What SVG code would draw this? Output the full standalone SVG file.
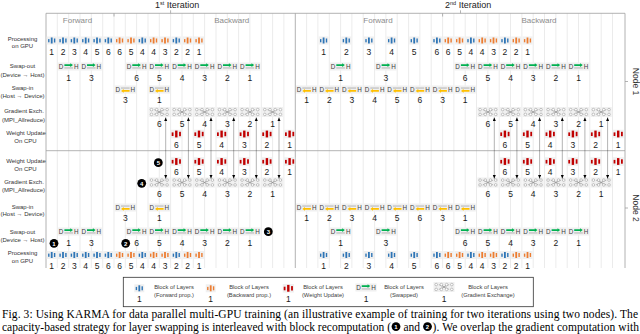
<svg xmlns="http://www.w3.org/2000/svg" width="640" height="334" viewBox="0 0 640 334">
<defs>
<style>
text{font-family:"Liberation Sans",Arial,sans-serif}
.bg{fill:#f0f0f0}
.n{font-size:8.5px;fill:#1a1a1a;text-anchor:middle}
.dh{font-size:6.3px;fill:#404040;text-anchor:middle}
.lb{font-size:6px;fill:#333;text-anchor:middle}
.fb{font-size:8px;fill:#8c8c8c;text-anchor:middle}
.it{font-size:9px;fill:#222}
.nd{font-size:8.5px;fill:#333;text-anchor:middle}
.lg{font-size:5.8px;fill:#404040;text-anchor:middle}
.cap{font-family:"Liberation Serif","Times New Roman",serif;font-size:11.5px;fill:#000}
.ct{font-size:6px;font-weight:bold;fill:#fff;text-anchor:middle}
.grid{stroke:#dedede;stroke-width:0.6;fill:none}
.frame{stroke:#a0a0a0;stroke-width:0.8;fill:none}
.ar{stroke:#000;stroke-width:0.6;stroke-dasharray:1 1;fill:none;marker-start:url(#ah);marker-end:url(#ah)}
</style>
<marker id="ah" viewBox="0 0 6 6" refX="6" refY="3" markerWidth="3.6" markerHeight="3.6" markerUnits="userSpaceOnUse" orient="auto-start-reverse"><path d="M0 0.4L6 3L0 5.6z" fill="#000"/></marker>
<g id="bars"><rect x="-3.6" y="-1.4" width="1.4" height="3.2"/><rect x="-0.9" y="-3" width="1.8" height="6"/><rect x="2.2" y="-2" width="1.4" height="4"/></g>
<g id="fw"><rect class="bg" x="-5" y="-4" width="10" height="8"/><use href="#bars" fill="#2e75b6"/></g>
<g id="bw"><rect class="bg" x="-5" y="-4" width="10" height="8"/><use href="#bars" fill="#ed7d31"/></g>
<g id="wu"><rect class="bg" x="-5.6" y="-4.3" width="11.2" height="8.6"/><g fill="#c00000"><rect x="-4.6" y="-1.6" width="1.8" height="3.6"/><rect x="-1.2" y="-3.4" width="2.4" height="6.8"/><rect x="2.8" y="-2.2" width="1.8" height="4.4"/></g></g>
<g id="so"><rect class="bg" x="-10.6" y="-4" width="21.2" height="8"/><path d="M-4.3 -2.2H1.6V-3.2L4.3 -1.4L1.6 0.4V-0.6H-4.3Z" fill="#00b050"/><rect x="-4.3" y="0.7" width="8.6" height="1.5" fill="#c8c8c8"/></g>
<g id="si"><rect class="bg" x="-10.6" y="-4" width="21.2" height="8"/><rect x="-4.3" y="-2.2" width="8.6" height="1.5" fill="#c8c8c8"/><path d="M4.3 0.6H-1.6V-0.4L-4.3 1.4L-1.6 3.2V2.2H4.3Z" fill="#ffc000"/></g>
<g id="gx"><rect class="bg" x="-10.5" y="-5" width="21" height="10"/><g stroke="#8c8c8c" stroke-width="0.5" fill="#fff"><path d="M-5.2 -2.4L5.2 2.4M5.2 -2.4L-5.2 2.4M-2.6 -2.4L2.6 2.4M2.6 -2.4L-2.6 2.4" fill="none"/><circle cx="-7.8" cy="-2.4" r="1.3"/><circle cx="-2.6" cy="-2.4" r="1.3"/><circle cx="2.6" cy="-2.4" r="1.3"/><circle cx="7.8" cy="-2.4" r="1.3"/><circle cx="-7.8" cy="2.4" r="1.3"/><circle cx="-2.6" cy="2.4" r="1.3"/><circle cx="2.6" cy="2.4" r="1.3"/><circle cx="7.8" cy="2.4" r="1.3"/></g></g>
</defs>
<rect width="640" height="334" fill="#fff"/>

<g id="frame">
<path class="grid" d="M57.3 13.3V268M68.7 13.3V268M80 13.3V268M91.3 13.3V268M102.7 13.3V268M114 13.3V268M125.3 13.3V268M136.6 13.3V268M148 13.3V268M159.3 13.3V268M170.6 13.3V268M182 13.3V268M193.3 13.3V268M204.6 13.3V268M216 13.3V268M227.3 13.3V268M238.6 13.3V268M249.9 13.3V268M261.3 13.3V268M272.6 13.3V268M283.9 13.3V268M306.6 13.3V268M317.9 13.3V268M329.3 13.3V268M340.6 13.3V268M351.9 13.3V268M363.2 13.3V268M374.6 13.3V268M385.9 13.3V268M397.2 13.3V268M408.6 13.3V268M419.9 13.3V268M431.2 13.3V268M442.6 13.3V268M453.9 13.3V268M465.2 13.3V268M476.5 13.3V268M487.9 13.3V268M499.2 13.3V268M510.5 13.3V268M521.9 13.3V268M533.2 13.3V268M544.5 13.3V268M555.9 13.3V268M567.2 13.3V268M578.5 13.3V268M589.8 13.3V268M601.2 13.3V268M612.5 13.3V268"/>
<path class="frame" d="M46 13.3V268M295.3 13.3V268M46 13.3H625V268M170.6 10.3V13.3M460.5 10.3V13.3M114 13.3V16.5M442.6 13.3V16.5M625 81.5H628M625 208H628M46 150.7H625"/>
<text class="it" x="155" y="8">1<tspan font-size="5.5" dy="-3">st</tspan><tspan dy="3"> Iteration</tspan></text>
<text class="it" x="445" y="8">2<tspan font-size="5.5" dy="-3">nd</tspan><tspan dy="3"> Iteration</tspan></text>
<text class="fb" x="77.5" y="23">Forward</text>
<text class="fb" x="231.7" y="23">Backward</text>
<text class="fb" x="378" y="23">Forward</text>
<text class="fb" x="539" y="23">Backward</text>
<text class="nd" transform="translate(632.5 81.5) rotate(90)">Node 1</text>
<text class="nd" transform="translate(632.5 208) rotate(90)">Node 2</text>
</g>

<g id="row-labels">
<text class="lb" x="22.5" y="40.5">Processing</text><text class="lb" x="22.5" y="47.5">on GPU</text>
<text class="lb" x="22.5" y="67.5">Swap-out</text><text class="lb" x="22.5" y="76.5">(Device → Host)</text>
<text class="lb" x="22.5" y="89.5">Swap-in</text><text class="lb" x="22.5" y="97.5">(Host → Device)</text>
<text class="lb" x="24" y="112.5">Gradient Exch.</text><text class="lb" x="23.5" y="122">(MPI_Allreduce)</text>
<text class="lb" x="26" y="135">Weight Update</text><text class="lb" x="25.5" y="143">On CPU</text>
<text class="lb" x="26" y="162.5">Weight Update</text><text class="lb" x="25.5" y="171">On CPU</text>
<text class="lb" x="24" y="183.5">Gradient Exch.</text><text class="lb" x="23.5" y="192">(MPI_Allreduce)</text>
<text class="lb" x="22.5" y="208.5">Swap-in</text><text class="lb" x="22.5" y="216">(Host → Device)</text>
<text class="lb" x="22.5" y="233.5">Swap-out</text><text class="lb" x="22.5" y="242">(Device → Host)</text>
<text class="lb" x="22.5" y="255">Processing</text><text class="lb" x="22.5" y="263">on GPU</text>
</g>

<g id="node1">
<g id="n1-p01" transform="translate(51.7 40.5)"><use href="#fw"/><text class="n" y="14.5">1</text></g>
<g id="n1-p02" transform="translate(63 40.5)"><use href="#fw"/><text class="n" y="14.5">2</text></g>
<g id="n1-p03" transform="translate(74.3 40.5)"><use href="#fw"/><text class="n" y="14.5">3</text></g>
<g id="n1-p04" transform="translate(85.7 40.5)"><use href="#fw"/><text class="n" y="14.5">4</text></g>
<g id="n1-p05" transform="translate(97 40.5)"><use href="#fw"/><text class="n" y="14.5">5</text></g>
<g id="n1-p06" transform="translate(108.3 40.5)"><use href="#fw"/><text class="n" y="14.5">6</text></g>
<g id="n1-p07" transform="translate(119.6 40.5)"><use href="#bw"/><text class="n" y="14.5">6</text></g>
<g id="n1-p08" transform="translate(131 40.5)"><use href="#bw"/><text class="n" y="14.5">5</text></g>
<g id="n1-p09" transform="translate(142.3 40.5)"><use href="#fw"/><text class="n" y="14.5">4</text></g>
<g id="n1-p10" transform="translate(153.6 40.5)"><use href="#bw"/><text class="n" y="14.5">4</text></g>
<g id="n1-p11" transform="translate(165 40.5)"><use href="#bw"/><text class="n" y="14.5">3</text></g>
<g id="n1-p12" transform="translate(176.3 40.5)"><use href="#fw"/><text class="n" y="14.5">2</text></g>
<g id="n1-p13" transform="translate(187.6 40.5)"><use href="#bw"/><text class="n" y="14.5">2</text></g>
<g id="n1-p14" transform="translate(199 40.5)"><use href="#bw"/><text class="n" y="14.5">1</text></g>
<g id="n1-p15" transform="translate(323.6 40.5)"><use href="#fw"/><text class="n" y="14.5">1</text></g>
<g id="n1-p16" transform="translate(346.3 40.5)"><use href="#fw"/><text class="n" y="14.5">2</text></g>
<g id="n1-p17" transform="translate(368.9 40.5)"><use href="#fw"/><text class="n" y="14.5">3</text></g>
<g id="n1-p18" transform="translate(391.6 40.5)"><use href="#fw"/><text class="n" y="14.5">4</text></g>
<g id="n1-p19" transform="translate(414.2 40.5)"><use href="#fw"/><text class="n" y="14.5">5</text></g>
<g id="n1-p20" transform="translate(436.9 40.5)"><use href="#fw"/><text class="n" y="14.5">6</text></g>
<g id="n1-p21" transform="translate(448.2 40.5)"><use href="#bw"/><text class="n" y="14.5">6</text></g>
<g id="n1-p22" transform="translate(459.6 40.5)"><use href="#bw"/><text class="n" y="14.5">5</text></g>
<g id="n1-p23" transform="translate(470.9 40.5)"><use href="#fw"/><text class="n" y="14.5">4</text></g>
<g id="n1-p24" transform="translate(482.2 40.5)"><use href="#bw"/><text class="n" y="14.5">4</text></g>
<g id="n1-p25" transform="translate(493.5 40.5)"><use href="#bw"/><text class="n" y="14.5">3</text></g>
<g id="n1-p26" transform="translate(504.9 40.5)"><use href="#fw"/><text class="n" y="14.5">2</text></g>
<g id="n1-p27" transform="translate(516.2 40.5)"><use href="#bw"/><text class="n" y="14.5">2</text></g>
<g id="n1-p28" transform="translate(527.5 40.5)"><use href="#bw"/><text class="n" y="14.5">1</text></g>

<g id="n1-so01" transform="translate(68.7 66.5)"><use href="#so"/><text class="dh" x="-7.6 7.6" y="2.3">DH</text><text class="n" y="14.7">1</text></g>
<g id="n1-so02" transform="translate(91.3 66.5)"><use href="#so"/><text class="dh" x="-7.6 7.6" y="2.3">DH</text><text class="n" y="14.7">3</text></g>
<g id="n1-so03" transform="translate(136.6 66.5)"><use href="#so"/><text class="dh" x="-7.6 7.6" y="2.3">DH</text><text class="n" y="14.7">6</text></g>
<g id="n1-so04" transform="translate(159.3 66.5)"><use href="#so"/><text class="dh" x="-7.6 7.6" y="2.3">DH</text><text class="n" y="14.7">5</text></g>
<g id="n1-so05" transform="translate(182 66.5)"><use href="#so"/><text class="dh" x="-7.6 7.6" y="2.3">DH</text><text class="n" y="14.7">4</text></g>
<g id="n1-so06" transform="translate(204.6 66.5)"><use href="#so"/><text class="dh" x="-7.6 7.6" y="2.3">DH</text><text class="n" y="14.7">3</text></g>
<g id="n1-so07" transform="translate(227.3 66.5)"><use href="#so"/><text class="dh" x="-7.6 7.6" y="2.3">DH</text><text class="n" y="14.7">2</text></g>
<g id="n1-so08" transform="translate(249.9 66.5)"><use href="#so"/><text class="dh" x="-7.6 7.6" y="2.3">DH</text><text class="n" y="14.7">1</text></g>
<g id="n1-so09" transform="translate(340.6 66.5)"><use href="#so"/><text class="dh" x="-7.6 7.6" y="2.3">DH</text><text class="n" y="14.7">1</text></g>
<g id="n1-so10" transform="translate(385.9 66.5)"><use href="#so"/><text class="dh" x="-7.6 7.6" y="2.3">DH</text><text class="n" y="14.7">3</text></g>
<g id="n1-so11" transform="translate(465.2 66.5)"><use href="#so"/><text class="dh" x="-7.6 7.6" y="2.3">DH</text><text class="n" y="14.7">6</text></g>
<g id="n1-so12" transform="translate(487.9 66.5)"><use href="#so"/><text class="dh" x="-7.6 7.6" y="2.3">DH</text><text class="n" y="14.7">5</text></g>
<g id="n1-so13" transform="translate(510.5 66.5)"><use href="#so"/><text class="dh" x="-7.6 7.6" y="2.3">DH</text><text class="n" y="14.7">4</text></g>
<g id="n1-so14" transform="translate(533.2 66.5)"><use href="#so"/><text class="dh" x="-7.6 7.6" y="2.3">DH</text><text class="n" y="14.7">3</text></g>
<g id="n1-so15" transform="translate(555.9 66.5)"><use href="#so"/><text class="dh" x="-7.6 7.6" y="2.3">DH</text><text class="n" y="14.7">2</text></g>
<g id="n1-so16" transform="translate(578.5 66.5)"><use href="#so"/><text class="dh" x="-7.6 7.6" y="2.3">DH</text><text class="n" y="14.7">1</text></g>

<g id="n1-si01" transform="translate(125.3 89.5)"><use href="#si"/><text class="dh" x="-7.6 7.6" y="2.3">DH</text><text class="n" y="13.3">3</text></g>
<g id="n1-si02" transform="translate(159.3 89.5)"><use href="#si"/><text class="dh" x="-7.6 7.6" y="2.3">DH</text><text class="n" y="13.3">1</text></g>
<g id="n1-si03" transform="translate(306.6 89.5)"><use href="#si"/><text class="dh" x="-7.6 7.6" y="2.3">DH</text><text class="n" y="13.3">1</text></g>
<g id="n1-si04" transform="translate(329.3 89.5)"><use href="#si"/><text class="dh" x="-7.6 7.6" y="2.3">DH</text><text class="n" y="13.3">2</text></g>
<g id="n1-si05" transform="translate(351.9 89.5)"><use href="#si"/><text class="dh" x="-7.6 7.6" y="2.3">DH</text><text class="n" y="13.3">3</text></g>
<g id="n1-si06" transform="translate(374.6 89.5)"><use href="#si"/><text class="dh" x="-7.6 7.6" y="2.3">DH</text><text class="n" y="13.3">4</text></g>
<g id="n1-si07" transform="translate(397.2 89.5)"><use href="#si"/><text class="dh" x="-7.6 7.6" y="2.3">DH</text><text class="n" y="13.3">5</text></g>
<g id="n1-si08" transform="translate(419.9 89.5)"><use href="#si"/><text class="dh" x="-7.6 7.6" y="2.3">DH</text><text class="n" y="13.3">6</text></g>
<g id="n1-si09" transform="translate(442.6 89.5)"><use href="#si"/><text class="dh" x="-7.6 7.6" y="2.3">DH</text><text class="n" y="13.3">3</text></g>
<g id="n1-si10" transform="translate(465.2 89.5)"><use href="#si"/><text class="dh" x="-7.6 7.6" y="2.3">DH</text><text class="n" y="13.3">1</text></g>

<g id="n1-g01" transform="translate(159.3 112)"><use href="#gx"/><text class="n" y="14.8">6</text></g>
<g id="n1-g02" transform="translate(182 112)"><use href="#gx"/><text class="n" y="14.8">5</text></g>
<g id="n1-g03" transform="translate(204.6 112)"><use href="#gx"/><text class="n" y="14.8">4</text></g>
<g id="n1-g04" transform="translate(227.3 112)"><use href="#gx"/><text class="n" y="14.8">3</text></g>
<g id="n1-g05" transform="translate(249.9 112)"><use href="#gx"/><text class="n" y="14.8">2</text></g>
<g id="n1-g06" transform="translate(272.6 112)"><use href="#gx"/><text class="n" y="14.8">1</text></g>
<g id="n1-g07" transform="translate(487.9 112)"><use href="#gx"/><text class="n" y="14.8">6</text></g>
<g id="n1-g08" transform="translate(510.5 112)"><use href="#gx"/><text class="n" y="14.8">5</text></g>
<g id="n1-g09" transform="translate(533.2 112)"><use href="#gx"/><text class="n" y="14.8">4</text></g>
<g id="n1-g10" transform="translate(555.9 112)"><use href="#gx"/><text class="n" y="14.8">3</text></g>
<g id="n1-g11" transform="translate(578.5 112)"><use href="#gx"/><text class="n" y="14.8">2</text></g>
<g id="n1-g12" transform="translate(601.2 112)"><use href="#gx"/><text class="n" y="14.8">1</text></g>

<g id="n1-w01" transform="translate(176.3 134)"><use href="#wu"/><text class="n" y="14.2">6</text></g>
<g id="n1-w02" transform="translate(199 134)"><use href="#wu"/><text class="n" y="14.2">5</text></g>
<g id="n1-w03" transform="translate(221.6 134)"><use href="#wu"/><text class="n" y="14.2">4</text></g>
<g id="n1-w04" transform="translate(244.3 134)"><use href="#wu"/><text class="n" y="14.2">3</text></g>
<g id="n1-w05" transform="translate(266.9 134)"><use href="#wu"/><text class="n" y="14.2">2</text></g>
<g id="n1-w06" transform="translate(289.6 134)"><use href="#wu"/><text class="n" y="14.2">1</text></g>
<g id="n1-w07" transform="translate(504.9 134)"><use href="#wu"/><text class="n" y="14.2">6</text></g>
<g id="n1-w08" transform="translate(527.5 134)"><use href="#wu"/><text class="n" y="14.2">5</text></g>
<g id="n1-w09" transform="translate(550.2 134)"><use href="#wu"/><text class="n" y="14.2">4</text></g>
<g id="n1-w10" transform="translate(572.9 134)"><use href="#wu"/><text class="n" y="14.2">3</text></g>
<g id="n1-w11" transform="translate(595.5 134)"><use href="#wu"/><text class="n" y="14.2">2</text></g>
<g id="n1-w12" transform="translate(618.2 134)"><use href="#wu"/><text class="n" y="14.2">1</text></g>
</g>

<g id="node2">
<g id="n2-w01" transform="translate(176.3 161.5)"><use href="#wu"/><text class="n" y="13.5">6</text></g>
<g id="n2-w02" transform="translate(199 161.5)"><use href="#wu"/><text class="n" y="13.5">5</text></g>
<g id="n2-w03" transform="translate(221.6 161.5)"><use href="#wu"/><text class="n" y="13.5">4</text></g>
<g id="n2-w04" transform="translate(244.3 161.5)"><use href="#wu"/><text class="n" y="13.5">3</text></g>
<g id="n2-w05" transform="translate(266.9 161.5)"><use href="#wu"/><text class="n" y="13.5">2</text></g>
<g id="n2-w06" transform="translate(289.6 161.5)"><use href="#wu"/><text class="n" y="13.5">1</text></g>
<g id="n2-w07" transform="translate(504.9 161.5)"><use href="#wu"/><text class="n" y="13.5">6</text></g>
<g id="n2-w08" transform="translate(527.5 161.5)"><use href="#wu"/><text class="n" y="13.5">5</text></g>
<g id="n2-w09" transform="translate(550.2 161.5)"><use href="#wu"/><text class="n" y="13.5">4</text></g>
<g id="n2-w10" transform="translate(572.9 161.5)"><use href="#wu"/><text class="n" y="13.5">3</text></g>
<g id="n2-w11" transform="translate(595.5 161.5)"><use href="#wu"/><text class="n" y="13.5">2</text></g>
<g id="n2-w12" transform="translate(618.2 161.5)"><use href="#wu"/><text class="n" y="13.5">1</text></g>

<g id="n2-g01" transform="translate(159.3 182.5)"><use href="#gx"/><text class="n" y="14.5">6</text></g>
<g id="n2-g02" transform="translate(182 182.5)"><use href="#gx"/><text class="n" y="14.5">5</text></g>
<g id="n2-g03" transform="translate(204.6 182.5)"><use href="#gx"/><text class="n" y="14.5">4</text></g>
<g id="n2-g04" transform="translate(227.3 182.5)"><use href="#gx"/><text class="n" y="14.5">3</text></g>
<g id="n2-g05" transform="translate(249.9 182.5)"><use href="#gx"/><text class="n" y="14.5">2</text></g>
<g id="n2-g06" transform="translate(272.6 182.5)"><use href="#gx"/><text class="n" y="14.5">1</text></g>
<g id="n2-g07" transform="translate(487.9 182.5)"><use href="#gx"/><text class="n" y="14.5">6</text></g>
<g id="n2-g08" transform="translate(510.5 182.5)"><use href="#gx"/><text class="n" y="14.5">5</text></g>
<g id="n2-g09" transform="translate(533.2 182.5)"><use href="#gx"/><text class="n" y="14.5">4</text></g>
<g id="n2-g10" transform="translate(555.9 182.5)"><use href="#gx"/><text class="n" y="14.5">3</text></g>
<g id="n2-g11" transform="translate(578.5 182.5)"><use href="#gx"/><text class="n" y="14.5">2</text></g>
<g id="n2-g12" transform="translate(601.2 182.5)"><use href="#gx"/><text class="n" y="14.5">1</text></g>

<g id="n2-si01" transform="translate(125.3 207.5)"><use href="#si"/><text class="dh" x="-7.6 7.6" y="2.3">DH</text><text class="n" y="13.3">3</text></g>
<g id="n2-si02" transform="translate(159.3 207.5)"><use href="#si"/><text class="dh" x="-7.6 7.6" y="2.3">DH</text><text class="n" y="13.3">1</text></g>
<g id="n2-si03" transform="translate(306.6 207.5)"><use href="#si"/><text class="dh" x="-7.6 7.6" y="2.3">DH</text><text class="n" y="13.3">1</text></g>
<g id="n2-si04" transform="translate(329.3 207.5)"><use href="#si"/><text class="dh" x="-7.6 7.6" y="2.3">DH</text><text class="n" y="13.3">2</text></g>
<g id="n2-si05" transform="translate(351.9 207.5)"><use href="#si"/><text class="dh" x="-7.6 7.6" y="2.3">DH</text><text class="n" y="13.3">3</text></g>
<g id="n2-si06" transform="translate(374.6 207.5)"><use href="#si"/><text class="dh" x="-7.6 7.6" y="2.3">DH</text><text class="n" y="13.3">4</text></g>
<g id="n2-si07" transform="translate(397.2 207.5)"><use href="#si"/><text class="dh" x="-7.6 7.6" y="2.3">DH</text><text class="n" y="13.3">5</text></g>
<g id="n2-si08" transform="translate(419.9 207.5)"><use href="#si"/><text class="dh" x="-7.6 7.6" y="2.3">DH</text><text class="n" y="13.3">6</text></g>
<g id="n2-si09" transform="translate(442.6 207.5)"><use href="#si"/><text class="dh" x="-7.6 7.6" y="2.3">DH</text><text class="n" y="13.3">3</text></g>
<g id="n2-si10" transform="translate(465.2 207.5)"><use href="#si"/><text class="dh" x="-7.6 7.6" y="2.3">DH</text><text class="n" y="13.3">1</text></g>

<g id="n2-so01" transform="translate(68.7 231.5)"><use href="#so"/><text class="dh" x="-7.6 7.6" y="2.3">DH</text><text class="n" y="14">1</text></g>
<g id="n2-so02" transform="translate(91.3 231.5)"><use href="#so"/><text class="dh" x="-7.6 7.6" y="2.3">DH</text><text class="n" y="14">3</text></g>
<g id="n2-so03" transform="translate(136.6 231.5)"><use href="#so"/><text class="dh" x="-7.6 7.6" y="2.3">DH</text><text class="n" y="14">6</text></g>
<g id="n2-so04" transform="translate(159.3 231.5)"><use href="#so"/><text class="dh" x="-7.6 7.6" y="2.3">DH</text><text class="n" y="14">5</text></g>
<g id="n2-so05" transform="translate(182 231.5)"><use href="#so"/><text class="dh" x="-7.6 7.6" y="2.3">DH</text><text class="n" y="14">4</text></g>
<g id="n2-so06" transform="translate(204.6 231.5)"><use href="#so"/><text class="dh" x="-7.6 7.6" y="2.3">DH</text><text class="n" y="14">3</text></g>
<g id="n2-so07" transform="translate(227.3 231.5)"><use href="#so"/><text class="dh" x="-7.6 7.6" y="2.3">DH</text><text class="n" y="14">2</text></g>
<g id="n2-so08" transform="translate(249.9 231.5)"><use href="#so"/><text class="dh" x="-7.6 7.6" y="2.3">DH</text><text class="n" y="14">1</text></g>
<g id="n2-so09" transform="translate(340.6 231.5)"><use href="#so"/><text class="dh" x="-7.6 7.6" y="2.3">DH</text><text class="n" y="14">1</text></g>
<g id="n2-so10" transform="translate(385.9 231.5)"><use href="#so"/><text class="dh" x="-7.6 7.6" y="2.3">DH</text><text class="n" y="14">3</text></g>
<g id="n2-so11" transform="translate(465.2 231.5)"><use href="#so"/><text class="dh" x="-7.6 7.6" y="2.3">DH</text><text class="n" y="14">6</text></g>
<g id="n2-so12" transform="translate(487.9 231.5)"><use href="#so"/><text class="dh" x="-7.6 7.6" y="2.3">DH</text><text class="n" y="14">5</text></g>
<g id="n2-so13" transform="translate(510.5 231.5)"><use href="#so"/><text class="dh" x="-7.6 7.6" y="2.3">DH</text><text class="n" y="14">4</text></g>
<g id="n2-so14" transform="translate(533.2 231.5)"><use href="#so"/><text class="dh" x="-7.6 7.6" y="2.3">DH</text><text class="n" y="14">3</text></g>
<g id="n2-so15" transform="translate(555.9 231.5)"><use href="#so"/><text class="dh" x="-7.6 7.6" y="2.3">DH</text><text class="n" y="14">2</text></g>
<g id="n2-so16" transform="translate(578.5 231.5)"><use href="#so"/><text class="dh" x="-7.6 7.6" y="2.3">DH</text><text class="n" y="14">1</text></g>

<g id="n2-p01" transform="translate(51.7 255)"><use href="#fw"/><text class="n" y="14">1</text></g>
<g id="n2-p02" transform="translate(63 255)"><use href="#fw"/><text class="n" y="14">2</text></g>
<g id="n2-p03" transform="translate(74.3 255)"><use href="#fw"/><text class="n" y="14">3</text></g>
<g id="n2-p04" transform="translate(85.7 255)"><use href="#fw"/><text class="n" y="14">4</text></g>
<g id="n2-p05" transform="translate(97 255)"><use href="#fw"/><text class="n" y="14">5</text></g>
<g id="n2-p06" transform="translate(108.3 255)"><use href="#fw"/><text class="n" y="14">6</text></g>
<g id="n2-p07" transform="translate(119.6 255)"><use href="#bw"/><text class="n" y="14">6</text></g>
<g id="n2-p08" transform="translate(131 255)"><use href="#bw"/><text class="n" y="14">5</text></g>
<g id="n2-p09" transform="translate(142.3 255)"><use href="#fw"/><text class="n" y="14">4</text></g>
<g id="n2-p10" transform="translate(153.6 255)"><use href="#bw"/><text class="n" y="14">4</text></g>
<g id="n2-p11" transform="translate(165 255)"><use href="#bw"/><text class="n" y="14">3</text></g>
<g id="n2-p12" transform="translate(176.3 255)"><use href="#fw"/><text class="n" y="14">2</text></g>
<g id="n2-p13" transform="translate(187.6 255)"><use href="#bw"/><text class="n" y="14">2</text></g>
<g id="n2-p14" transform="translate(199 255)"><use href="#bw"/><text class="n" y="14">1</text></g>
<g id="n2-p15" transform="translate(323.6 255)"><use href="#fw"/><text class="n" y="14">1</text></g>
<g id="n2-p16" transform="translate(346.3 255)"><use href="#fw"/><text class="n" y="14">2</text></g>
<g id="n2-p17" transform="translate(368.9 255)"><use href="#fw"/><text class="n" y="14">3</text></g>
<g id="n2-p18" transform="translate(391.6 255)"><use href="#fw"/><text class="n" y="14">4</text></g>
<g id="n2-p19" transform="translate(414.2 255)"><use href="#fw"/><text class="n" y="14">5</text></g>
<g id="n2-p20" transform="translate(436.9 255)"><use href="#fw"/><text class="n" y="14">6</text></g>
<g id="n2-p21" transform="translate(448.2 255)"><use href="#bw"/><text class="n" y="14">6</text></g>
<g id="n2-p22" transform="translate(459.6 255)"><use href="#bw"/><text class="n" y="14">5</text></g>
<g id="n2-p23" transform="translate(470.9 255)"><use href="#fw"/><text class="n" y="14">4</text></g>
<g id="n2-p24" transform="translate(482.2 255)"><use href="#bw"/><text class="n" y="14">4</text></g>
<g id="n2-p25" transform="translate(493.5 255)"><use href="#bw"/><text class="n" y="14">3</text></g>
<g id="n2-p26" transform="translate(504.9 255)"><use href="#fw"/><text class="n" y="14">2</text></g>
<g id="n2-p27" transform="translate(516.2 255)"><use href="#bw"/><text class="n" y="14">2</text></g>
<g id="n2-p28" transform="translate(527.5 255)"><use href="#bw"/><text class="n" y="14">1</text></g>
</g>

<g id="connectors">
<path class="ar" d="M165.7 117.5V178.5"/>
<path class="ar" d="M188.4 117.5V178.5"/>
<path class="ar" d="M211 117.5V178.5"/>
<path class="ar" d="M233.7 117.5V178.5"/>
<path class="ar" d="M256.3 117.5V178.5"/>
<path class="ar" d="M279 117.5V178.5"/>
<path class="ar" d="M494.3 117.5V178.5"/>
<path class="ar" d="M516.9 117.5V178.5"/>
<path class="ar" d="M539.6 117.5V178.5"/>
<path class="ar" d="M562.3 117.5V178.5"/>
<path class="ar" d="M584.9 117.5V178.5"/>
<path class="ar" d="M607.6 117.5V178.5"/>
</g>

<g id="markers">
<g id="m1"><circle cx="54" cy="243.3" r="4.4"/><text class="ct" x="54" y="245.5">1</text></g>
<g id="m2"><circle cx="125.7" cy="243.3" r="4.4"/><text class="ct" x="125.7" y="245.5">2</text></g>
<g id="m3"><circle cx="268.3" cy="231.7" r="4.4"/><text class="ct" x="268.3" y="233.9">3</text></g>
<g id="m4"><circle cx="141.7" cy="183.3" r="4.4"/><text class="ct" x="141.7" y="185.5">4</text></g>
<g id="m5"><circle cx="158.3" cy="162.7" r="4.4"/><text class="ct" x="158.3" y="164.9">5</text></g>
</g>

<g id="legend">
<rect x="123.3" y="277.3" width="410" height="29.4" fill="#fff" stroke="#333" stroke-width="0.8"/>
<g id="lg-fw" transform="translate(139.3 288.3)"><use href="#fw"/><text class="n" y="14">1</text></g>
<text class="lg" x="174" y="288.5">Block of Layers</text><text class="lg" x="174" y="297">(Forward prop.)</text>
<g id="lg-bw" transform="translate(210.7 288.3)"><use href="#bw"/><text class="n" y="14">1</text></g>
<text class="lg" x="249" y="288.5">Block of Layers</text><text class="lg" x="249" y="297">(Backward prop.)</text>
<g id="lg-wu" transform="translate(288.3 288.3)"><use href="#wu"/><text class="n" y="14">1</text></g>
<text class="lg" x="323" y="288.5">Block of Layers</text><text class="lg" x="323" y="297">(Weight Update)</text>
<g id="lg-so" transform="translate(366 287.5)"><use href="#so"/><text class="dh" x="-7.6 7.6" y="2.3">DH</text><text class="n" y="14.8">1</text></g>
<text class="lg" x="404" y="288.5">Block of Layers</text><text class="lg" x="404" y="297">(Swapped)</text>
<g id="lg-gx" transform="translate(444 287)"><use href="#gx"/><text class="n" y="15.3">1</text></g>
<text class="lg" x="488" y="288.5">Block of Layers</text><text class="lg" x="488" y="297">(Gradient Exchange)</text>
</g>

<g id="caption">
<text class="cap" x="2" y="318" textLength="636" lengthAdjust="spacing">Fig. 3: Using KARMA for data parallel multi-GPU training (an illustrative example of training for two iterations using two nodes). The</text>
<text class="cap" x="2" y="330.5" textLength="389" lengthAdjust="spacing">capacity-based strategy for layer swapping is interleaved with block recomputation (</text>
<circle cx="396" cy="326.6" r="4.4"/><text class="ct" x="396" y="328.9" font-size="6.5">1</text>
<text class="cap" x="403.4" y="330.5">and</text>
<circle cx="427.5" cy="326.6" r="4.4"/><text class="ct" x="427.5" y="328.9" font-size="6.5">2</text>
<text class="cap" x="432.5" y="330.5" textLength="206.5" lengthAdjust="spacing">). We overlap the gradient computation with</text>
</g>
</svg>
